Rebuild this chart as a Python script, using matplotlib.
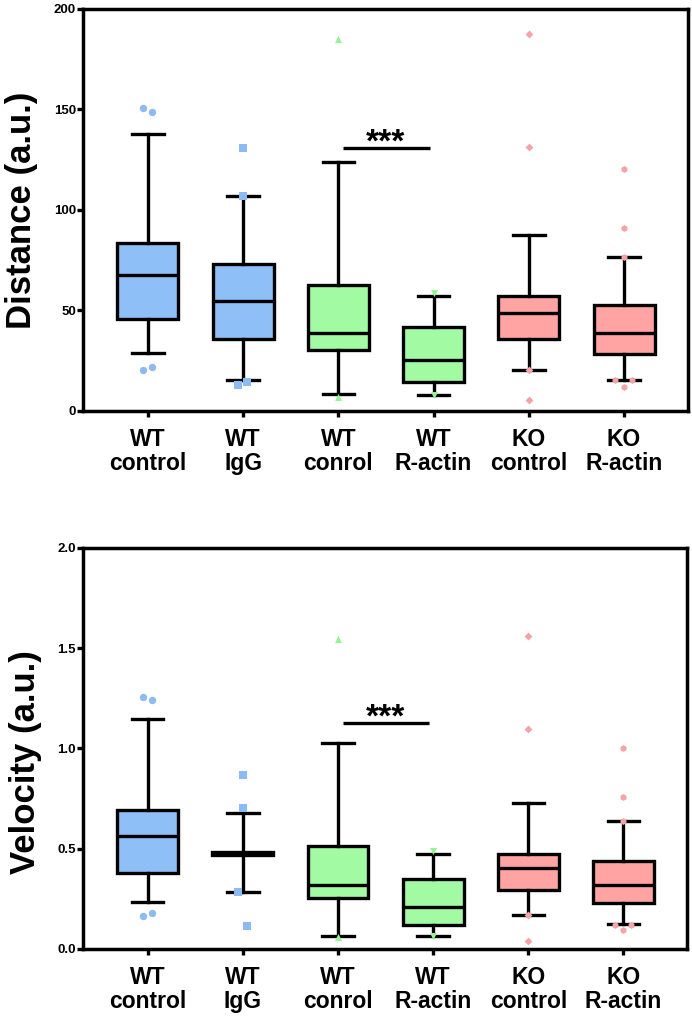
import numpy as np
import matplotlib.pyplot as plt

plt.rcParams['font.family'] = ['Liberation Sans', 'DejaVu Sans']
plt.rcParams['font.weight'] = 'bold'

# ── data ─────────────────────────────────────────────────────────────────────
groups = ["WT\ncontrol", "WT\nIgG", "WT\nconrol", "WT\nR-actin", "KO\ncontrol", "KO\nR-actin"]

dist_whislo = [28.9, 15.4, 8.3, 7.9, 20.4, 15.4]
dist_q1     = [45.8, 35.8, 30.3, 14.6, 35.7, 28.2]
dist_med    = [67.7, 54.7, 38.9, 25.4, 48.7, 38.9]
dist_q3     = [83.6, 73.0, 62.7, 42.0, 57.2, 52.7]
dist_whishi = [137.8, 107.0, 124.0, 57.0, 87.5, 76.7]
dist_fliers = [[150.7, 148.8, 20.4, 21.9],
               [131.0, 107.0, 13.0, 14.5],
               [185.0, 7.0],
               [58.9, 8.0],
               [187.5, 131.5, 20.4, 5.5],
               [120.4, 90.9, 76.7, 15.4, 15.4, 11.9]]
dist_sig = (131.0, "***")

vel_whislo = [0.234, 0.284, 0.065, 0.065, 0.170, 0.125]
vel_q1     = [0.379, 0.467, 0.254, 0.120, 0.294, 0.230]
vel_med    = [0.564, 0.475, 0.319, 0.209, 0.404, 0.320]
vel_q3     = [0.693, 0.482, 0.514, 0.349, 0.473, 0.440]
vel_whishi = [1.147, 0.678, 1.027, 0.474, 0.730, 0.640]
vel_fliers = [[1.257, 1.242, 0.165, 0.180],
              [0.868, 0.703, 0.284, 0.115],
              [1.546, 0.060],
              [0.489, 0.065],
              [1.560, 1.097, 0.170, 0.040],
              [1.000, 0.758, 0.640, 0.121, 0.121, 0.096]]
vel_sig = (1.127, "***")

# horizontal spread of coincident outliers (layout only)
flier_dx = [[-0.05, 0.04, -0.05, 0.04],
            [0, 0, -0.05, 0.04],
            [0, 0],
            [0, 0],
            [0, 0, 0, 0],
            [0, 0, 0, -0.09, 0.08, 0]]

box_colors   = ["#8FBFF7", "#8FBFF7", "#A2FBA2", "#A2FBA2", "#FFA3A3", "#FFA3A3"]
flier_colors = ["#8CBAF2", "#8CBAF2", "#98F298", "#98F298", "#F4A3A8", "#F4A3A8"]
flier_marks  = ["o", "s", "^", "v", "D", "h"]
flier_sizes  = [28, 26, 26, 26, 16, 24]


def draw_panel(ax, lo, q1, med, q3, hi, fliers, sig, ylim, yticks, yfmt):
    stats = [dict(whislo=a, q1=b, med=c, q3=d, whishi=e, fliers=[])
             for a, b, c, d, e in zip(lo, q1, med, q3, hi)]
    pos = np.arange(len(stats))
    bp = ax.bxp(stats, positions=pos, widths=0.64, capwidths=0.33,
                patch_artist=True, showfliers=False,
                boxprops=dict(linewidth=2.4, edgecolor="black"),
                medianprops=dict(linewidth=2.4, color="black"),
                whiskerprops=dict(linewidth=2.4, color="black"),
                capprops=dict(linewidth=2.4, color="black"))
    for patch, c in zip(bp["boxes"], box_colors):
        patch.set_facecolor(c)

    for i, vals in enumerate(fliers):
        ax.scatter(i + np.array(flier_dx[i]), vals, marker=flier_marks[i],
                   s=flier_sizes[i], color=flier_colors[i], linewidths=0, zorder=4)

    # significance bar WT conrol vs WT R-actin
    ax.plot([2.05, 2.96], [sig[0], sig[0]], color="black", lw=2.4, solid_capstyle="butt")
    ax.text(2.5, sig[0] - (ylim[1] - ylim[0]) * 0.01, sig[1], ha="center", va="baseline",
            fontsize=24, fontweight="bold")

    ax.set_xlim(-0.68, 5.67)
    ax.set_ylim(*ylim)
    ax.set_yticks(yticks)
    ax.set_yticklabels([yfmt.format(t) for t in yticks], fontsize=9.5, fontweight="bold")
    ax.set_xticks(pos)
    ax.set_xticklabels(groups, fontsize=16.5, fontweight="bold", linespacing=1.05)
    ax.tick_params(axis="y", length=4, width=2.4, pad=1)
    ax.tick_params(axis="x", length=4, width=2.4, pad=8)
    for sp in ax.spines.values():
        sp.set_linewidth(2.5)


fig = plt.figure(figsize=(6.92, 10.18), dpi=100)
ax1 = fig.add_axes([0.12, 0.5963, 0.874, 0.3949])
ax2 = fig.add_axes([0.12, 0.0678, 0.873, 0.3939])

draw_panel(ax1, dist_whislo, dist_q1, dist_med, dist_q3, dist_whishi, dist_fliers,
           dist_sig, (0, 200), [0, 50, 100, 150, 200], "{:.0f}")
draw_panel(ax2, vel_whislo, vel_q1, vel_med, vel_q3, vel_whishi, vel_fliers,
           vel_sig, (0, 2.0), [0.0, 0.5, 1.0, 1.5, 2.0], "{:.1f}")

ax1.text(-0.102, 0.5, "Distance (a.u.)", transform=ax1.transAxes, rotation=90,
         ha="center", va="center", fontsize=25, fontweight="bold")
ax2.text(-0.096, 0.466, "Velocity (a.u.)", transform=ax2.transAxes, rotation=90,
         ha="center", va="center", fontsize=25, fontweight="bold")

fig.savefig("out.png", dpi=100)
